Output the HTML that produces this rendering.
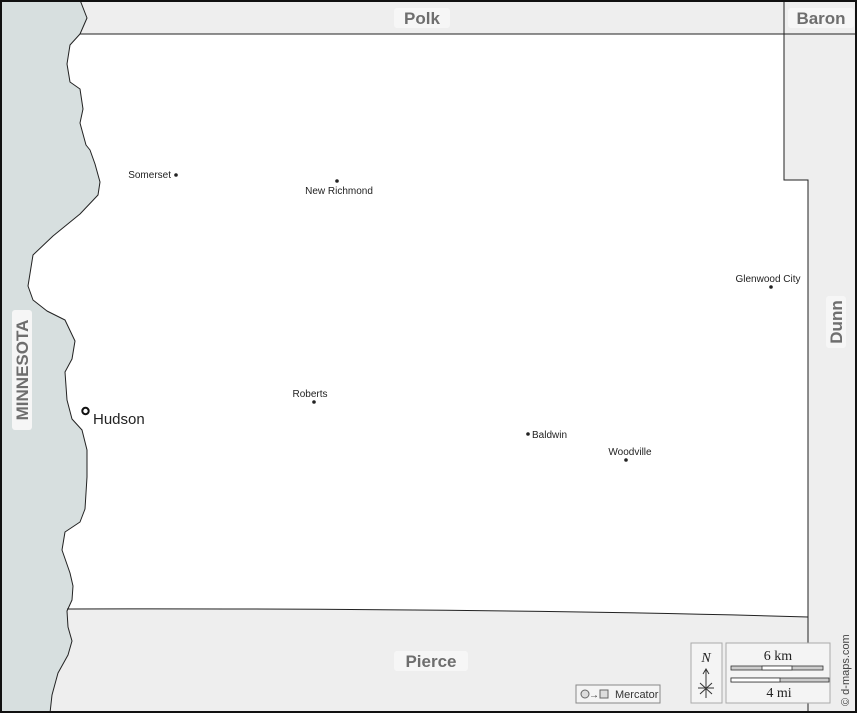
<!DOCTYPE html>
<html><head><meta charset="utf-8"><style>
html,body{margin:0;padding:0;background:#fff}
svg{display:block}
.s{font-family:"Liberation Sans",sans-serif}
.r{font-family:"Liberation Serif",serif}
</style></head><body>
<svg width="857" height="713" viewBox="0 0 857 713" xmlns="http://www.w3.org/2000/svg">
<rect x="0" y="0" width="857" height="713" fill="#eeeeee"/>
<path d="M0,34 L784,34 L784,180 L808,180 L808,617 Q500,608 0,609 Z" fill="#fff"/>
<path d="M0,0 L80,0 L87,18 L80,34 L70,45 L67,64 L70,82 L80,89 L83,109 L80,123 L86,145 L90,150 L95,164 L100,182 L98,195 L80,214 L53,236 L33,255 L28,286 L33,300 L47,311 L65,320 L75,341 L72,359 L65,372 L67,400 L72,419 L82,430 L87,450 L87,477 L85,509 L80,522 L65,532 L62,550 L70,573 L73,586 L72,600 L67,611 L68,627 L72,641 L68,655 L58,673 L52,695 L50,713 L0,713 Z" fill="#d7dfdf"/>
<path d="M80,0 L87,18 L80,34 L70,45 L67,64 L70,82 L80,89 L83,109 L80,123 L86,145 L90,150 L95,164 L100,182 L98,195 L80,214 L53,236 L33,255 L28,286 L33,300 L47,311 L65,320 L75,341 L72,359 L65,372 L67,400 L72,419 L82,430 L87,450 L87,477 L85,509 L80,522 L65,532 L62,550 L70,573 L73,586 L72,600 L67,611 L68,627 L72,641 L68,655 L58,673 L52,695 L50,713" fill="none" stroke="#222" stroke-width="1" stroke-linejoin="round"/>
<g fill="none" stroke="#222" stroke-width="1">
<path d="M80,34 L857,34"/>
<path d="M784,0 L784,180 L808,180 L808,713"/>
<path d="M67,609 Q500,608 808,617"/>
</g>
<g font-weight="bold" fill="#6e6e6e" font-size="17" class="s">
<rect x="394" y="8" width="56" height="20" rx="3" fill="#f6f6f6"/>
<text x="422" y="24" text-anchor="middle">Polk</text>
<rect x="788" y="8" width="66" height="20" rx="3" fill="#f6f6f6"/>
<text x="821" y="24" text-anchor="middle">Baron</text>
<rect x="394" y="651" width="74" height="20" rx="3" fill="#f6f6f6"/>
<text x="431" y="667" text-anchor="middle">Pierce</text>
<g transform="translate(836,322) rotate(-90)"><rect x="-26" y="-10" width="52" height="20" rx="3" fill="#f6f6f6"/><text x="0" y="6" text-anchor="middle">Dunn</text></g>
<g transform="translate(22,370) rotate(-90)"><rect x="-60" y="-10" width="120" height="20" rx="3" fill="#f6f6f6"/><text x="0" y="6" text-anchor="middle">MINNESOTA</text></g>
</g>
<g font-size="10" fill="#222" class="s">
<text x="171" y="178" text-anchor="end">Somerset</text><circle cx="176" cy="175" r="1.8"/>
<circle cx="337" cy="181" r="1.8"/><text x="339" y="194" text-anchor="middle">New Richmond</text>
<text x="768" y="282" text-anchor="middle">Glenwood City</text><circle cx="771" cy="287" r="1.8"/>
<text x="310" y="397" text-anchor="middle">Roberts</text><circle cx="314" cy="402" r="1.8"/>
<circle cx="528" cy="434" r="1.8"/><text x="532" y="438">Baldwin</text>
<text x="630" y="455" text-anchor="middle">Woodville</text><circle cx="626" cy="460" r="1.8"/>
</g>
<circle cx="85.5" cy="411" r="3.2" fill="none" stroke="#111" stroke-width="2"/>
<text x="93" y="424" font-size="15" fill="#222" class="s">Hudson</text>
<rect x="576" y="685" width="84" height="18" fill="#f4f4f4" stroke="#888"/>
<circle cx="585" cy="694" r="4" fill="#ddd" stroke="#666"/>
<text x="589" y="698" font-size="10" fill="#333" class="s">→</text>
<rect x="600" y="690" width="8" height="8" fill="#ddd" stroke="#666"/>
<text x="615" y="698" font-size="11" fill="#333" class="s">Mercator</text>
<rect x="691" y="643" width="31" height="60" fill="#f4f4f4" stroke="#aaa"/>
<text x="706" y="662" font-size="14" font-style="italic" class="r" text-anchor="middle" fill="#222">N</text>
<g stroke="#333" stroke-width="1" fill="none"><path d="M706,698 L706,670 M703,674 L706,669 L709,674 M698,688 L714,688 M700,683 L712,694 M712,683 L700,694"/></g>
<rect x="726" y="643" width="104" height="60" fill="#f4f4f4" stroke="#aaa"/>
<text x="778" y="660" font-size="14" class="r" text-anchor="middle" fill="#222">6 km</text>
<rect x="731" y="666" width="92" height="4" fill="#ccc" stroke="#333" stroke-width="0.8"/>
<rect x="762" y="666" width="30" height="4" fill="#fff" stroke="#333" stroke-width="0.8"/>
<rect x="731" y="678" width="98" height="4" fill="#ccc" stroke="#333" stroke-width="0.8"/>
<rect x="731" y="678" width="49" height="4" fill="#fff" stroke="#333" stroke-width="0.8"/>
<text x="779" y="697" font-size="14" class="r" text-anchor="middle" fill="#222">4 mi</text>
<text transform="translate(849,706) rotate(-90)" font-size="11" fill="#444" class="s">© d-maps.com</text>
<rect x="1" y="1" width="855" height="711" fill="none" stroke="#111" stroke-width="2"/>
</svg>
</body></html>
